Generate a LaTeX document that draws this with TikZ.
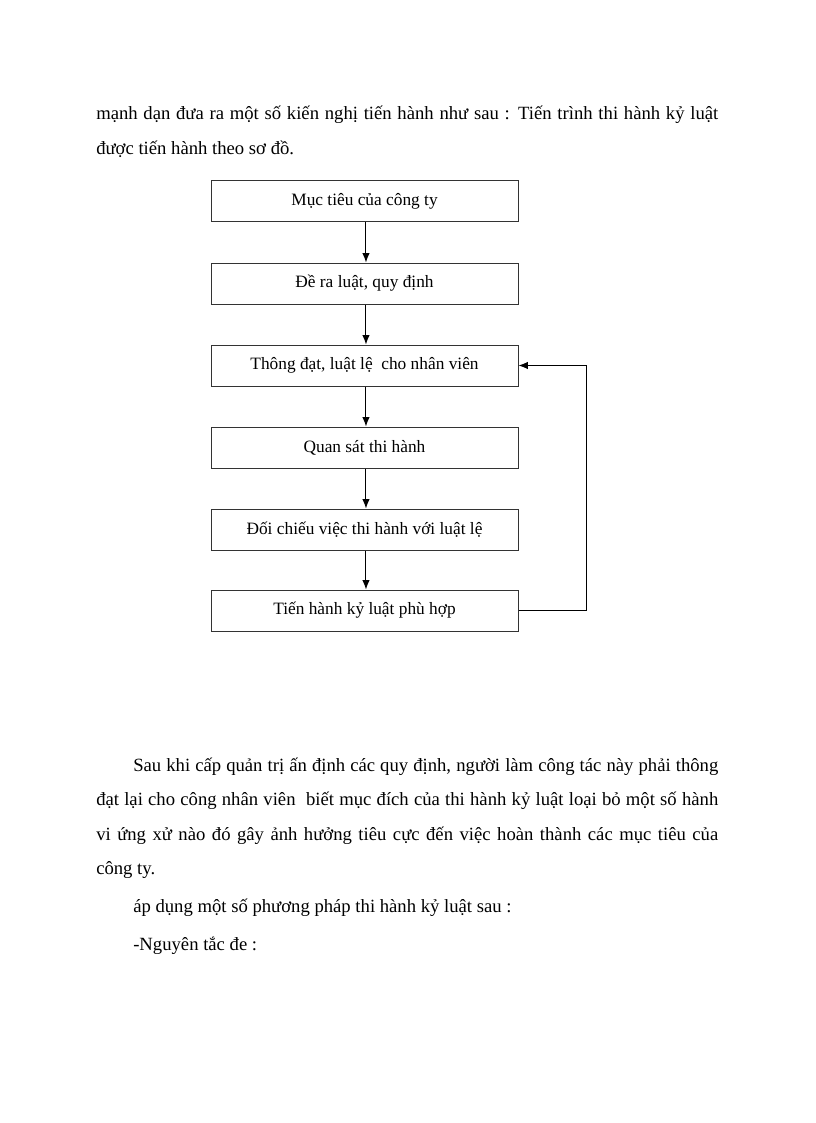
\documentclass[tikz,border=0pt]{standalone}
\usepackage{fontspec}
\setmainfont{Liberation Serif}
\usetikzlibrary{arrows.meta}
\begin{document}
\begin{tikzpicture}[x=0.75pt,y=-0.75pt,
  box/.style={draw=black!80, line width=0.75pt, minimum width=230.25pt, minimum height=30.75pt, inner sep=0pt, font=\fontsize{13}{15}\selectfont},
  arr/.style={line width=0.75pt, -{Latex[length=7pt,width=5.5pt]}},
  body/.style={anchor=base west, inner sep=0pt, font=\fontsize{14}{16}\selectfont}]
\useasboundingbox (0,0) rectangle (816,1123);
% intro text
\node[body] (t1) at (96,120) {\makebox[466.5pt][s]{mạnh dạn đưa ra một số kiến nghị tiến hành như sau : Tiến trình thi hành kỷ luật}};
\node[body] (t2) at (96,155) {được tiến hành theo sơ đồ.};
% boxes
\node[box] (b1) at (364.5,201.5) {\raisebox{2pt}{Mục tiêu của công ty}};
\node[box] (b2) at (364.5,283.5) {\raisebox{2pt}{Đề ra luật, quy định}};
\node[box] (b3) at (364.5,365.5) {\raisebox{2pt}{Thông đạt, luật lệ\ \ cho nhân viên}};
\node[box] (b4) at (364.5,447.5) {\raisebox{2pt}{Quan sát thi hành}};
\node[box] (b5) at (364.5,529.5) {\raisebox{2pt}{Đối chiếu việc thi hành với luật lệ}};
\node[box] (b6) at (364.5,610.5) {\raisebox{2pt}{Tiến hành kỷ luật phù hợp}};
\draw[arr] ([xshift=1.1pt]b1.south) -- ([xshift=1.1pt]b2.north);
\draw[arr] ([xshift=1.1pt]b2.south) -- ([xshift=1.1pt]b3.north);
\draw[arr] ([xshift=1.1pt]b3.south) -- ([xshift=1.1pt]b4.north);
\draw[arr] ([xshift=1.1pt]b4.south) -- ([xshift=1.1pt]b5.north);
\draw[arr] ([xshift=1.1pt]b5.south) -- ([xshift=1.1pt]b6.north);
\coordinate (fb) at (586,610.5);
\draw[arr] (b6.east) -- (fb) |- (b3.east);
% following text
\node[body] (p1) at (133,771) {\makebox[438.75pt][s]{Sau khi cấp quản trị ấn định các quy định, người làm công tác này phải thông}};
\node[body] (p2) at (96,805) {\makebox[466.5pt][s]{đạt lại cho công nhân viên\ \ biết mục đích của\ thi hành kỷ luật loại bỏ một số hành}};
\node[body] (p3) at (96,840) {\makebox[466.5pt][s]{vi ứng xử nào đó gây ảnh hưởng tiêu cực đến việc hoàn thành các mục tiêu của}};
\node[body] (p4) at (96,874) {công ty.};
\node[body] (p5) at (133,912) {áp dụng một số phương pháp thi hành kỷ luật sau :};
\node[body] (p6) at (133,950) {-Nguyên tắc đe :};
\end{tikzpicture}
\end{document}
